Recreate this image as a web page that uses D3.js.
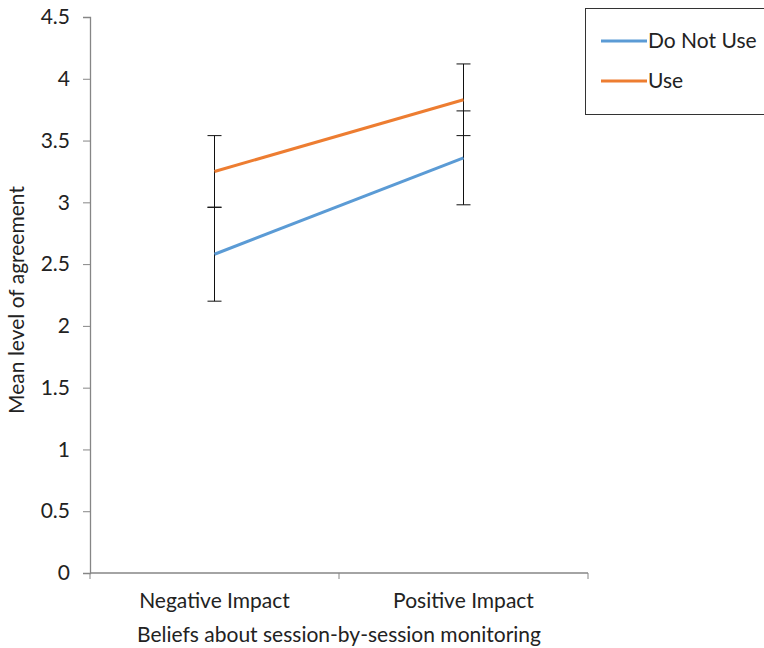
<!DOCTYPE html>
<html>
<head>
<meta charset="utf-8">
<script src="https://cdn.jsdelivr.net/npm/d3@7"></script>
<style>
  body { margin: 0; background: #fff; }
  text { font-family: Lato, sans-serif; fill: #222; }
</style>
</head>
<body>
<script>
// data
var categories = ["Negative Impact", "Positive Impact"];
var seriesNames = ["Do Not Use", "Use"];
var doNotUse = [2.58, 3.36];
var doNotUseErr = [0.38, 0.38];
var useVals = [3.25, 3.83];
var useErr = [0.29, 0.29];
var yTicks = [0, 0.5, 1, 1.5, 2, 2.5, 3, 3.5, 4, 4.5];
var colors = ["#5b9bd5", "#ed7d31"];

var FS = "21px";

var chart = {
    margin: { top: 17, right: 176, bottom: 75, left: 90 },
    get width() { return 764 - this.margin.left - this.margin.right; },
    get height() { return 648 - this.margin.top - this.margin.bottom; },

    setup: function() {
        this.svg = d3.select("body").append("svg")
            .attr("width", 764)
            .attr("height", 648);
        this.g = this.svg.append("g")
            .attr("transform", "translate(" + this.margin.left + "," + this.margin.top + ")");

        this.x = d3.scaleBand().domain(categories).range([0, this.width]);
        this.y = d3.scaleLinear().domain([0, 4.5]).range([this.height, 0]);
    },

    drawAxes: function() {
        var g = this.g, h = this.height, w = this.width;

        // y axis
        var ya = g.append("g")
            .call(d3.axisLeft(this.y).tickValues(yTicks).tickSize(7).tickPadding(13).tickFormat(d3.format("")));
        ya.select(".domain").attr("stroke", "#868686").attr("stroke-width", 1.3);
        ya.selectAll(".tick line").attr("stroke", "#868686");
        ya.selectAll("text").style("font-size", FS).attr("fill", "#222");

        // x axis: ticks at band edges like the spreadsheet chart
        var xa = g.append("g").attr("transform", "translate(0," + h + ")");
        xa.append("line").attr("x1", 0).attr("x2", w).attr("stroke", "#868686").attr("stroke-width", 1.3);
        var edges = [0].concat(categories.map(c => this.x(c) + this.x.bandwidth()));
        xa.selectAll(".edge").data(edges).enter().append("line")
            .attr("x1", d => d).attr("x2", d => d)
            .attr("y1", 0).attr("y2", 6)
            .attr("stroke", "#868686");
        xa.selectAll(".lbl").data(categories).enter().append("text")
            .attr("x", d => this.x(d) + this.x.bandwidth() / 2)
            .attr("y", 35)
            .attr("text-anchor", "middle")
            .style("font-size", FS)
            .text(d => d);

        // axis titles
        g.append("text")
            .attr("x", w / 2)
            .attr("y", h + 69)
            .attr("text-anchor", "middle")
            .style("font-size", FS)
            .text("Beliefs about session-by-session monitoring");

        g.append("text")
            .attr("transform", "rotate(-90)")
            .attr("x", -h / 2 - 5)
            .attr("y", -66)
            .attr("text-anchor", "middle")
            .style("font-size", FS)
            .text("Mean level of agreement");
    },

    drawSeries: function() {
        var self = this;
        var series = [
            { name: seriesNames[0], vals: doNotUse, err: doNotUseErr, color: colors[0] },
            { name: seriesNames[1], vals: useVals, err: useErr, color: colors[1] }
        ];
        var cx = c => self.x(c) + self.x.bandwidth() / 2;

        // error bars
        series.forEach(function(s) {
            var eb = self.g.append("g");
            s.vals.forEach(function(v, i) {
                var xp = cx(categories[i]);
                eb.append("line")
                    .attr("x1", xp).attr("x2", xp)
                    .attr("y1", self.y(v - s.err[i])).attr("y2", self.y(v + s.err[i]))
                    .attr("stroke", "#111").attr("stroke-width", 1);
                [v - s.err[i], v + s.err[i]].forEach(function(e) {
                    eb.append("line")
                        .attr("x1", xp - 7).attr("x2", xp + 7)
                        .attr("y1", self.y(e)).attr("y2", self.y(e))
                        .attr("stroke", "#111").attr("stroke-width", 1);
                });
            });
        });

        var line = d3.line()
            .x((d, i) => cx(categories[i]))
            .y(d => self.y(d));

        series.forEach(function(s) {
            self.g.append("path")
                .datum(s.vals)
                .attr("d", line)
                .attr("fill", "none")
                .attr("stroke", s.color)
                .attr("stroke-width", 3);
        });

        this.series = series;
    },

    drawLegend: function() {
        var lg = this.svg.append("g").attr("transform", "translate(585,8)");
        lg.append("rect")
            .attr("x", 0.5).attr("y", 0.5)
            .attr("width", 200).attr("height", 106)
            .attr("fill", "#fff").attr("stroke", "#333").attr("stroke-width", 1);
        var items = lg.selectAll(".item").data(this.series).enter().append("g")
            .attr("transform", (d, i) => "translate(0," + (33 + i * 40) + ")");
        items.append("line")
            .attr("x1", 16).attr("x2", 62)
            .attr("stroke", d => d.color).attr("stroke-width", 3);
        items.append("text")
            .attr("x", 63).attr("y", 7)
            .style("font-size", FS)
            .text(d => d.name);
    },

    init: function() {
        this.setup();
        this.drawAxes();
        this.drawSeries();
        this.drawLegend();
    }
};

chart.init();
</script>
</body>
</html>
